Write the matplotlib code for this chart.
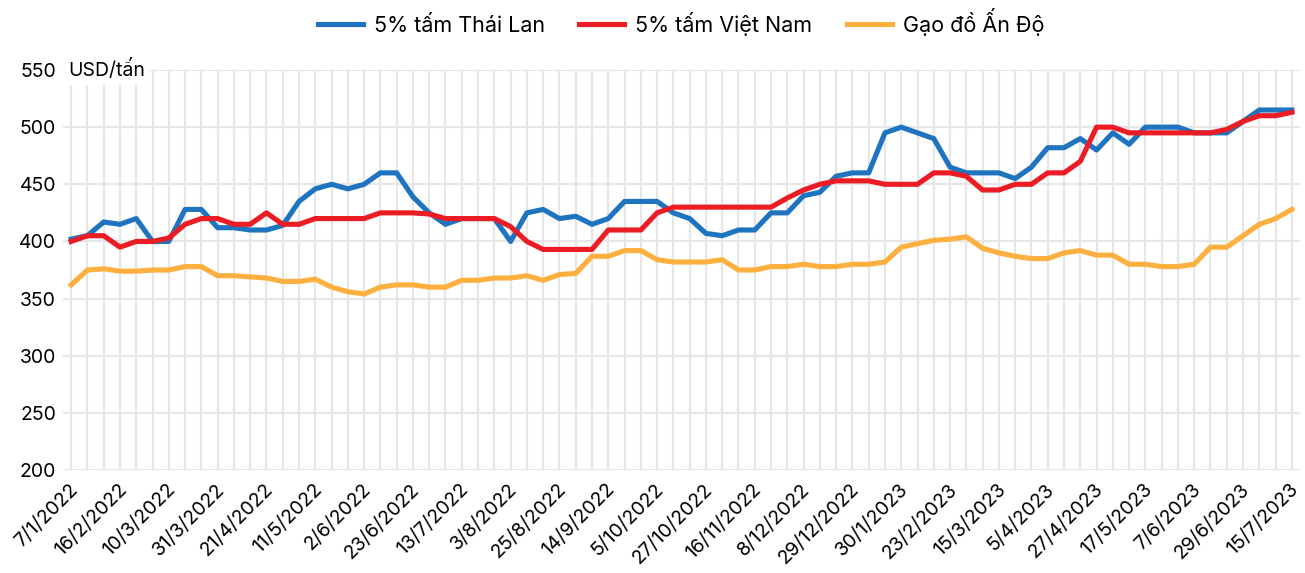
import matplotlib
matplotlib.use('Agg')
from matplotlib import pyplot as plt
from matplotlib.transforms import ScaledTranslation
import numpy as np

plt.rcParams['font.family'] = ['Inter', 'DejaVu Sans']

# tick labels, one every 3 weeks
dateLabels = ['7/1/2022', '16/2/2022', '10/3/2022', '31/3/2022', '21/4/2022', '11/5/2022',
              '2/6/2022', '23/6/2022', '13/7/2022', '3/8/2022', '25/8/2022', '14/9/2022',
              '5/10/2022', '27/10/2022', '16/11/2022', '8/12/2022', '29/12/2022', '30/1/2023',
              '23/2/2023', '15/3/2023', '5/4/2023', '27/4/2023', '17/5/2023', '7/6/2023',
              '29/6/2023', '15/7/2023']

# USD/tan, weekly
thai = [402, 405, 417, 415, 420, 400, 400, 428, 428, 412,
        412, 410, 410, 414, 435, 446, 450, 446, 450, 460,
        460, 439, 425, 415, 420, 420, 420, 400, 425, 428,
        420, 422, 415, 420, 435, 435, 435, 425, 420, 407,
        405, 410, 410, 425, 425, 440, 443, 457, 460, 460,
        495, 500, 495, 490, 465, 460, 460, 460, 455, 465,
        482, 482, 490, 480, 495, 485, 500, 500, 500, 495,
        495, 495, 505, 515, 515, 515]

viet = [400, 405, 405, 395, 400, 400, 403, 415, 420, 420,
        415, 415, 425, 415, 415, 420, 420, 420, 420, 425,
        425, 425, 424, 420, 420, 420, 420, 413, 400, 393,
        393, 393, 393, 410, 410, 410, 425, 430, 430, 430,
        430, 430, 430, 430, 438, 445, 450, 453, 453, 453,
        450, 450, 450, 460, 460, 457, 445, 445, 450, 450,
        460, 460, 470, 500, 500, 495, 495, 495, 495, 495,
        495, 498, 505, 510, 510, 513]

india = [362, 375, 376, 374, 374, 375, 375, 378, 378, 370,
         370, 369, 368, 365, 365, 367, 360, 356, 354, 360,
         362, 362, 360, 360, 366, 366, 368, 368, 370, 366,
         371, 372, 387, 387, 392, 392, 384, 382, 382, 382,
         384, 375, 375, 378, 378, 380, 378, 378, 380, 380,
         382, 395, 398, 401, 402, 404, 394, 390, 387, 385,
         385, 390, 392, 388, 388, 380, 380, 378, 378, 380,
         395, 395, 405, 415, 420, 428]

fig = plt.figure(figsize=(13.05, 5.73), dpi=100)
ax = fig.add_axes([63/1305, 1-470/573, 1237/1305, 400/573])

x = np.arange(len(thai))
ax.plot(x, thai, color='#1f74bf', lw=3.7, label='5% tấm Thái Lan', zorder=3)
ax.plot(x, viet, color='#ec1c24', lw=3.7, label='5% tấm Việt Nam', zorder=4)
ax.plot(x, india, color='#fdb040', lw=3.7, label='Gạo đồ Ấn Độ', zorder=2)

ax.set_xlim(-0.5, len(thai) - 0.5)
ax.set_ylim(200, 550)
ax.set_yticks(range(200, 551, 50))
ax.set_xticks(x[::3])
ax.set_xticklabels(dateLabels, rotation=45, ha='right', va='center', rotation_mode='anchor')
ax.set_xticks(x, minor=True)
ax.tick_params(axis='both', which='both', length=0, labelsize=14)
ax.tick_params(axis='x', pad=12)
ax.tick_params(axis='y', pad=5)
ax.grid(True, which='both', color='#e6e6e6', lw=1.6)
ax.set_axisbelow(True)
for s in ax.spines.values():
    s.set_visible(False)

# nudge date labels a bit to the right
shift = ScaledTranslation(4/100, 0, fig.dpi_scale_trans)
for lab in ax.get_xticklabels():
    lab.set_transform(lab.get_transform() + shift)

fig.text(68/1305, 1-70/573, 'USD/tấn', fontsize=14, va='center', ha='left',
         bbox=dict(facecolor='white', edgecolor='none', pad=3))

fig.legend(loc='center', bbox_to_anchor=(681/1305, 1-22/573), ncol=3, frameon=False,
           fontsize=15.5, handlelength=2.1, columnspacing=1.6, handletextpad=0.5)

fig.savefig('out.png', dpi=100)
